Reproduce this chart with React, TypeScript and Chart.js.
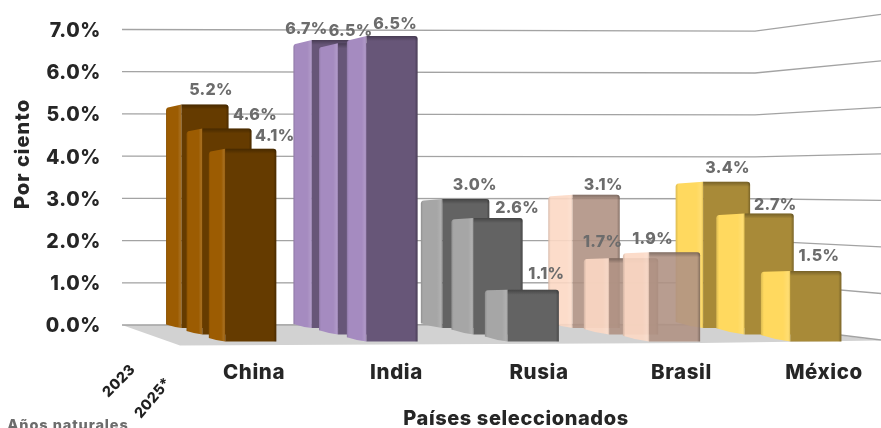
import React, { useEffect, useRef } from "react";
import { Chart, registerables } from "chart.js";

Chart.register(...registerables);

const categories = ["China", "India", "Rusia", "Brasil", "México"];
const years = ["2023", "2024", "2025*"];
const values2023 = [5.2, 6.7, 3.0, 3.1, 3.4];
const values2024 = [4.6, 6.5, 2.6, 1.7, 2.7];
const values2025 = [4.1, 6.5, 1.1, 1.9, 1.5];
const yTicks = [0, 1, 2, 3, 4, 5, 6, 7];

const frontColors = ["#653b00", "#675678", "#636363", "rgba(176,146,132,0.9)", "#a88a38"];
const sideColors = ["#9c5c02", "#a58bc0", "#a6a6a6", "rgba(252,216,196,0.9)", "#ffd95f"];

const FONT = "Inter, 'Open Sans', sans-serif";
const W = 881, H = 428;
const AREA = { left: 122, right: 881, top: 29.5, bottom: 325 };

// Each depth row has its own linear axes (perspective): pixel = a + b * index, pixel = base - unit * value
const rows = [
  { x: [205, 130.4], y: [328, 43], barWidth: 47, dx: [6, -29, 9, 7, 1], dy: [-14, -11, -14, -10, -14] },
  { x: [227, 135.55], y: [334.5, 44.8], barWidth: 49, dx: [28, -12, 19, -31, 6], dy: [-13, -12, -10, -16, -8] },
  { x: [250.8, 141.27], y: [341.5, 47], barWidth: 51, dx: [24, 3, 13, -22, 3], dy: [-13, -12, -16, -13, -15] },
];
const seriesValues = [values2023, values2024, values2025];

const xRange = (a: number, b: number) => ({ min: (AREA.left - a) / b, max: (AREA.right - a) / b });
const yRange = (base: number, unit: number) => ({
  min: (base - AREA.bottom) / unit,
  max: (base - AREA.top) / unit,
});
const noPadding = (s: any) => {
  s.paddingLeft = 0;
  s.paddingRight = 0;
  s.paddingTop = 0;
  s.paddingBottom = 0;
};

const wallPlugin = {
  id: "wall",
  beforeDraw(chart: any) {
    chart.ctx.letterSpacing = "0.6px";
    // Nudge the value-axis labels down so they centre on their gridlines
    const items = chart.scales.y.getLabelItems();
    if (!items.nudged) {
      items.forEach((it: any) => {
        it.options.translation = [it.options.translation[0], it.options.translation[1] + 1.5];
      });
      items.nudged = true;
    }
  },
  beforeDatasetsDraw(chart: any) {
    const ctx = chart.ctx;
    const sc = chart.scales.y;
    const y0 = sc.getPixelForValue(0);
    ctx.save();
    // floor
    ctx.fillStyle = "#d2d2d2";
    ctx.beginPath();
    ctx.moveTo(122, y0);
    ctx.lineTo(180, y0 + 20.5);
    ctx.lineTo(700, y0 + 18);
    ctx.lineTo(881, y0 + 15.5);
    ctx.lineTo(755, y0);
    ctx.closePath();
    ctx.fill();
    // gridlines over back and side walls
    ctx.strokeStyle = "#a3a3a3";
    ctx.lineWidth = 1.3;
    yTicks.forEach((v) => {
      const y = sc.getPixelForValue(v);
      const back = y0 - 0.5 + (y - y0) * (41.9 / 42.2);
      const side = y0 + 15 + (y - y0) * (46.5 / 42.2);
      ctx.beginPath();
      ctx.moveTo(122, y);
      ctx.lineTo(755, back);
      ctx.lineTo(881, side);
      ctx.stroke();
    });
    ctx.restore();
  },
};

const barPlugin = {
  id: "bars3d",
  beforeDatasetDraw(chart: any, args: any) {
    const ctx = chart.ctx;
    args.meta.data.forEach((el: any, i: number) => {
      const { x, y, base, width } = el.getProps(["x", "y", "base", "width"], true);
      const fl = x - width / 2;
      const r = x + width / 2;
      const s = (fl + 490) * 0.023;
      const sl = fl - s;
      const low = s * 0.22;
      const rise = (base - y) * 0.014;
      ctx.save();
      // side face
      ctx.beginPath();
      ctx.moveTo(fl, base);
      ctx.quadraticCurveTo(fl - s * 0.5, base - low * 0.25, sl, base - low);
      ctx.lineTo(sl, y + rise + 3);
      ctx.quadraticCurveTo(sl, y + rise, sl + 3, y + rise - 0.3);
      ctx.lineTo(fl, y);
      ctx.closePath();
      ctx.fillStyle = sideColors[i];
      ctx.fill();
      const g = ctx.createLinearGradient(sl, 0, fl, 0);
      g.addColorStop(0, "rgba(0,0,0,0.14)");
      g.addColorStop(0.1, "rgba(0,0,0,0)");
      g.addColorStop(0.75, "rgba(255,255,255,0)");
      g.addColorStop(0.93, "rgba(255,255,255,0.12)");
      g.addColorStop(1, "rgba(0,0,0,0.1)");
      ctx.fillStyle = g;
      ctx.fill();
      // front face
      ctx.beginPath();
      ctx.moveTo(fl, base);
      ctx.lineTo(fl, y);
      ctx.lineTo(r - 3, y);
      ctx.quadraticCurveTo(r, y, r, y + 3);
      ctx.lineTo(r, base);
      ctx.closePath();
      ctx.fillStyle = el.options.backgroundColor;
      ctx.fill();
      const gr = ctx.createLinearGradient(fl, 0, r, 0);
      gr.addColorStop(0, "rgba(0,0,0,0)");
      gr.addColorStop(0.94, "rgba(0,0,0,0)");
      gr.addColorStop(1, "rgba(0,0,0,0.28)");
      ctx.fillStyle = gr;
      ctx.fill();
      const gt = ctx.createLinearGradient(0, y, 0, y + 5);
      gt.addColorStop(0, "rgba(0,0,0,0.3)");
      gt.addColorStop(1, "rgba(0,0,0,0)");
      ctx.fillStyle = gt;
      ctx.fill();
      ctx.restore();
    });
    return false;
  },
};

const labelPlugin = {
  id: "texts",
  afterDatasetsDraw(chart: any) {
    const ctx = chart.ctx;
    ctx.save();
    ctx.textAlign = "center";
    ctx.textBaseline = "middle";
    ctx.letterSpacing = "0.3px";
    chart.data.datasets.forEach((ds: any, d: number) => {
      const meta = chart.getDatasetMeta(d);
      meta.data.forEach((el: any, i: number) => {
        ctx.font = `800 16px ${FONT}`;
        ctx.fillStyle = "#6c6c6c";
        const row = rows[d];
        ctx.fillText(seriesValues[d][i].toFixed(1) + "%", el.x + row.dx[i], el.y + row.dy[i]);
      });
    });
    const put = (t: string, x: number, y: number, rot: number, font: string, color: string, sp: string) => {
      ctx.save();
      ctx.translate(x, y);
      ctx.rotate(rot);
      ctx.font = font;
      ctx.letterSpacing = sp;
      ctx.fillStyle = color;
      ctx.fillText(t, 0, 0);
      ctx.restore();
    };
    put("Por ciento", 23, 154, -Math.PI / 2, `800 20px ${FONT}`, "#262626", "1px");
    put("Países seleccionados", 516, 419, 0, `800 20px ${FONT}`, "#262626", "0.6px");
    put("Años naturales", 68, 426, 0, `800 14.5px ${FONT}`, "#6c6c6c", "0.9px");
    put(years[0], 119, 381, -Math.PI / 4, `800 14.5px ${FONT}`, "#1f1f1f", "0.3px");
    put(years[2], 153, 398, -Math.PI / 3.6, `800 14.5px ${FONT}`, "#1f1f1f", "0.3px");
    ctx.restore();
  },
};

export default function App() {
  const ref = useRef<HTMLCanvasElement>(null);
  useEffect(() => {
    const scales: any = {
      y: {
        type: "linear",
        min: 0,
        max: 7,
        bounds: "data",
        grid: { display: false, drawTicks: false },
        border: { display: false },
        afterFit(s: any) {
          s.width = AREA.left;
          noPadding(s);
        },
        ticks: {
          stepSize: 1,
          padding: 21,
          color: "#262626",
          font: { family: FONT, size: 19.5, weight: "800" },
          callback: (v: number) => v.toFixed(1) + "%",
        },
      },
      xLabels: {
        type: "linear",
        axis: "x",
        position: "bottom",
        bounds: "data",
        offset: false,
        ...xRange(254, 142.5),
        grid: { display: false, drawTicks: false },
        border: { display: false },
        afterFit(s: any) {
          s.height = H - AREA.bottom;
          noPadding(s);
        },
        afterBuildTicks(s: any) {
          s.ticks = categories.map((_, i) => ({ value: i }));
        },
        ticks: {
          autoSkip: false,
          maxRotation: 0,
          minRotation: 0,
          padding: 36,
          color: "#262626",
          font: { family: FONT, size: 20.5, weight: "800" },
          callback: (v: number) => categories[v] ?? "",
        },
      },
    };
    rows.forEach((r, d) => {
      scales[`x${d}`] = { type: "linear", axis: "x", display: false, bounds: "data", offset: false, ...xRange(r.x[0], r.x[1]) };
      scales[`y${d}`] = { type: "linear", axis: "y", display: false, bounds: "data", ...yRange(r.y[0], r.y[1]) };
    });
    const chart = new Chart(ref.current!, {
      type: "bar",
      data: {
        datasets: seriesValues.map((vals, d) => ({
          label: years[d],
          data: vals.map((y, x) => ({ x, y })),
          xAxisID: `x${d}`,
          yAxisID: `y${d}`,
          order: 3 - d,
          grouped: false,
          barThickness: rows[d].barWidth,
          backgroundColor: frontColors,
        })),
      },
      options: {
        responsive: false,
        animation: false,
        layout: { padding: { left: 0, right: 0, top: AREA.top, bottom: 0 } },
        plugins: { legend: { display: false }, tooltip: { enabled: false } },
        scales,
      },
      plugins: [wallPlugin, barPlugin, labelPlugin],
    } as any);
    return () => chart.destroy();
  }, []);
  return (
    <div style={{ position: "fixed", left: 0, top: 0, width: W, height: H, background: "#fff" }}>
      <canvas ref={ref} width={W} height={H} style={{ display: "block", filter: "blur(0.45px)" }} />
    </div>
  );
}
